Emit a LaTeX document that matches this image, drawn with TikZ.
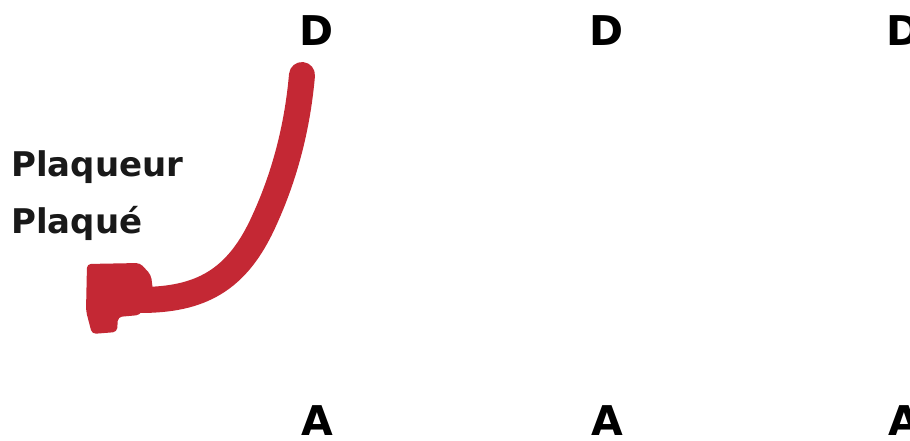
\documentclass[tikz,border=0pt]{standalone}
\usepackage{fontspec}
\setmainfont{DejaVu Sans}
\definecolor{strokered}{RGB}{196,40,52}
\begin{document}
\begin{tikzpicture}[x=1pt,y=1pt,
  letter/.style={font=\fontsize{41}{41}\selectfont\bfseries, inner sep=0pt, anchor=base},
  lbl/.style={font=\fontsize{34}{34}\selectfont\bfseries, inner sep=0pt, anchor=base west, text=black!90}]
\useasboundingbox (0,0) rectangle (910,441);
\fill[white] (0,0) rectangle (910,441);
% letters
\node[letter] (d1) at (317,395) {D};
\node[letter] (d2) at (607,395) {D};
\node[letter] (d3) at (904,395) {D};
\node[letter] (a1) at (317,5) {A};
\node[letter] (a2) at (607,5) {A};
\node[letter] (a3) at (904,5) {A};
% labels
\node[lbl] (l1) at (11,264) {Plaqueur};
\node[lbl] (l2) at (11,207) {Plaqué};
% red stroke
\coordinate (s) at (302,366);
\coordinate (e) at (140,141);
\draw[strokered, line width=26pt, line cap=round]
  (s) .. controls (298,320) and (287,270) .. (264,220)
      .. controls (237,160) and (200,141) .. (e);
\fill[strokered, rounded corners=4pt] (87,177) -- (140,178) -- (151,166) -- (153,150) -- (140,126) -- (118,124) -- (117,109) -- (92,107) -- (86,130) -- cycle;
\end{tikzpicture}
\end{document}
